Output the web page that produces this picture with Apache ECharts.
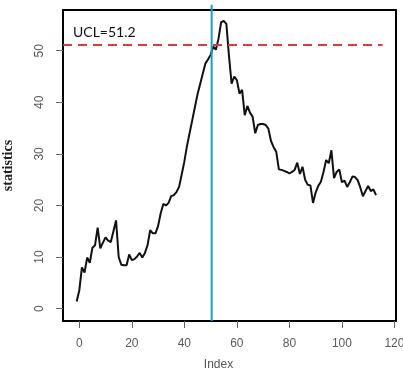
<!DOCTYPE html>
<html>
<head>
<meta charset="utf-8">
<script src="https://cdn.jsdelivr.net/npm/echarts@6/dist/echarts.min.js"></script>
<style>
  html, body { margin: 0; padding: 0; background: #fff; }
  #main { width: 403px; height: 384px; }
</style>
</head>
<body>
<div id="main"></div>
<script>
// index along the x axis
const indexStart = -1;
const statistics = [
  1.4, 3.5, 8.0, 7.0, 9.9, 8.9, 11.8, 12.3, 15.7, 11.7,
  12.8, 13.8, 13.2, 12.9, 15.0, 17.1, 10.0, 8.5, 8.4, 8.4,
  10.5, 9.4, 9.6, 10.1, 10.8, 9.9, 10.8, 12.3, 15.2, 14.6,
  14.6, 16.0, 18.5, 20.3, 20.0, 20.5, 21.8, 22.0, 22.6, 23.6,
  26.0, 28.5, 31.5, 34.0, 36.5, 39.0, 41.5, 43.5, 45.5, 47.5,
  48.3, 49.2, 50.8, 50.2, 52.3, 55.5, 55.8, 55.2, 49.0, 43.6,
  45.0, 44.3, 41.7, 42.4, 37.5, 39.3, 38.0, 37.2, 34.0, 35.6,
  35.8, 35.8, 35.6, 34.9, 32.5, 31.3, 30.4, 27.0, 26.9, 26.7,
  26.5, 26.2, 26.5, 26.9, 28.3, 26.1, 27.5, 25.0, 24.0, 23.9,
  20.5, 22.5, 23.8, 24.6, 26.5, 28.8, 28.2, 30.7, 25.3, 26.5,
  27.0, 24.5, 24.8, 23.6, 24.5, 25.6, 25.5, 24.9, 23.5, 21.8,
  22.8, 23.8, 22.8, 23.1, 22.0
];
const xTicks = [0, 20, 40, 60, 80, 100, 120];
const yTicks = [0, 10, 20, 30, 40, 50];
const UCL = 51.2;
const changePoint = 50.4;

const points = statistics.map((v, k) => [indexStart + k, v]);
const xMin = -6.2, xMax = 120.6, yMin = -2.4, yMax = 57.9;

var chart = echarts.init(document.getElementById('main'));
var option = {
  animation: false,
  grid: {
    left: 63,
    top: 10,
    right: 7,
    bottom: 63,
    outerBoundsMode: 'none',
    show: false
  },
  xAxis: [
    {
      type: 'value',
      min: xMin,
      max: xMax,
      name: 'Index',
      nameLocation: 'middle',
      nameGap: 38,
      nameTextStyle: {
        color: '#555',
        fontSize: 12,
        fontFamily: 'Liberation Sans',
        padding: [0, 22, 0, 0]
      },
      axisLine: { show: true, onZero: false, lineStyle: { color: '#000', width: 2 } },
      splitLine: { show: false },
      axisTick: {
        length: 7,
        customValues: xTicks,
        lineStyle: { color: '#666', width: 1 }
      },
      axisLabel: {
        customValues: xTicks,
        margin: 17,
        color: '#5a5a5a',
        fontSize: 12,
        fontFamily: 'Liberation Sans'
      }
    },
    {
      // top frame line
      type: 'value',
      position: 'top',
      min: xMin,
      max: xMax,
      axisLine: { show: true, onZero: false, lineStyle: { color: '#000', width: 2 } },
      axisTick: { show: false },
      axisLabel: { show: false },
      splitLine: { show: false }
    }
  ],
  yAxis: [
    {
      type: 'value',
      min: yMin,
      max: yMax,
      name: 'statistics',
      nameLocation: 'middle',
      nameGap: 48,
      nameRotate: 90,
      nameTextStyle: {
        color: '#222',
        fontSize: 14,
        fontWeight: 'bold',
        fontFamily: 'Liberation Serif'
      },
      axisLine: { show: true, onZero: false, lineStyle: { color: '#000', width: 2 } },
      splitLine: { show: false },
      axisTick: {
        length: 7,
        customValues: yTicks,
        lineStyle: { color: '#666', width: 1 }
      },
      axisLabel: {
        customValues: yTicks,
        rotate: 90,
        margin: 17,
        color: '#5a5a5a',
        fontSize: 12,
        fontFamily: 'Liberation Sans'
      }
    },
    {
      // right frame line
      type: 'value',
      position: 'right',
      min: yMin,
      max: yMax,
      axisLine: { show: true, onZero: false, lineStyle: { color: '#000', width: 2 } },
      axisTick: { show: false },
      axisLabel: { show: false },
      splitLine: { show: false }
    }
  ],
  series: [
    {
      type: 'line',
      data: points,
      showSymbol: false,
      lineStyle: { color: '#111', width: 2 },
      markLine: {
        silent: true,
        symbol: 'none',
        data: [
          [
            {
              coord: [xMin, UCL],
              lineStyle: { color: '#dd3a3c', width: 2, type: [9, 6] },
              label: {
                show: true,
                formatter: 'UCL=' + UCL,
                position: 'insideStartTop',
                distance: [10, 5],
                color: '#111',
                fontSize: 14,
                fontFamily: 'Lato'
              }
            },
            { coord: [115.5, UCL] }
          ]
        ]
      }
    },
    {
      // change point marker
      type: 'line',
      data: [[changePoint, yMin], [changePoint, yMax + 1]],
      showSymbol: false,
      clip: false,
      silent: true,
      lineStyle: { color: '#1f9bc8', width: 2 }
    }
  ]
};
chart.setOption(option);
</script>
</body>
</html>
